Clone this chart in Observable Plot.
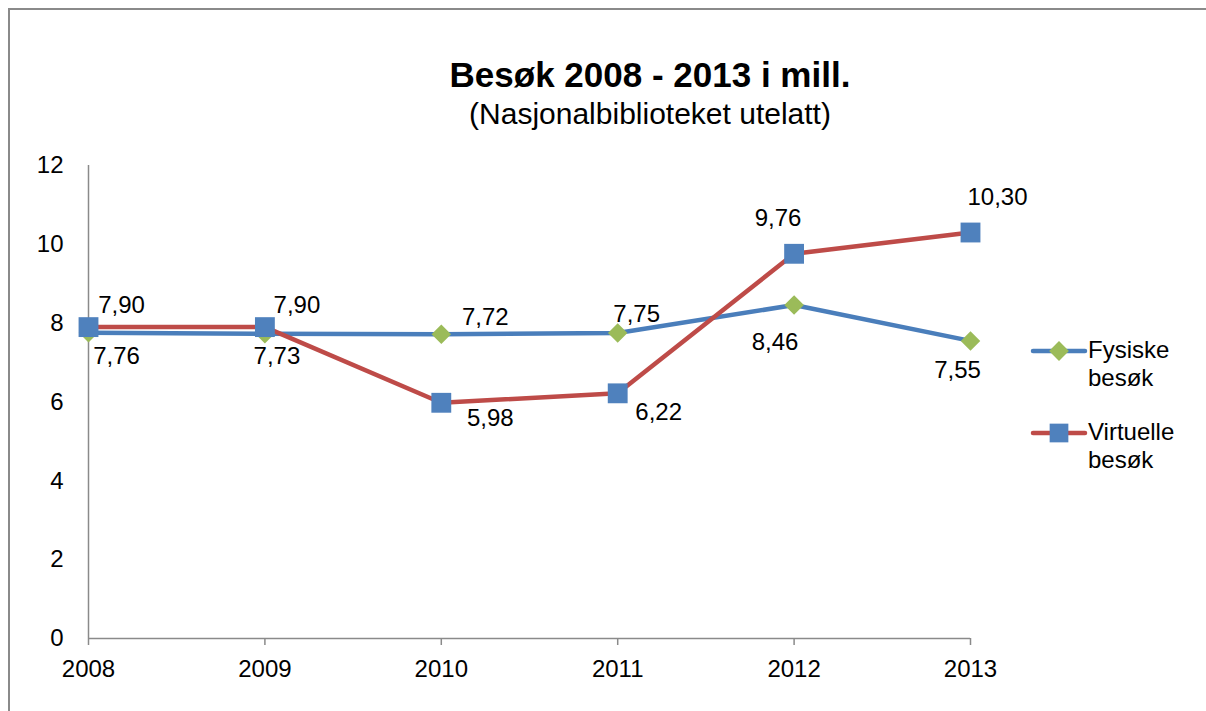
<!DOCTYPE html>
<html>
<head>
<meta charset="utf-8">
<script src="https://cdn.jsdelivr.net/npm/d3@7"></script>
<script src="https://cdn.jsdelivr.net/npm/@observablehq/plot@0.6"></script>
<style>
  html, body { margin: 0; padding: 0; background: #fff; overflow: hidden; }
  #wrap { position: relative; width: 1206px; height: 711px; font-family: "Liberation Sans", Arial, sans-serif; color: #000; }
  #frame { position: absolute; left: 8px; top: 8px; width: 1300px; height: 900px; border: 2px solid #8a8a8a; box-sizing: border-box; }
  #chart { position: absolute; left: 0; top: 0; }
  #title { position: absolute; left: 350px; width: 600px; top: 55px; text-align: center; font-weight: bold; font-size: 35px; line-height: 40px; }
  #subtitle { position: absolute; left: 350px; width: 600px; top: 97px; text-align: center; font-size: 30px; line-height: 34px; }
  .leg { position: absolute; left: 1030px; font-size: 24px; line-height: 28px; display: flex; align-items: flex-start; }
  .leg svg { margin-top: 2px; }
</style>
</head>
<body>
<div id="wrap">
  <div id="frame"></div>
  <div id="chart"></div>
  <div id="title">Besøk 2008 - 2013 i mill.</div>
  <div id="subtitle">(Nasjonalbiblioteket utelatt)</div>
  <div class="leg" id="leg1" style="top:336px"></div>
  <div class="leg" id="leg2" style="top:418px"></div>
</div>
<script>
const years = [2008, 2009, 2010, 2011, 2012, 2013];
const fysiske = [7.76, 7.73, 7.72, 7.75, 8.46, 7.55];
const virtuelle = [7.90, 7.90, 5.98, 6.22, 9.76, 10.30];
const seriesNames = ["Fysiske besøk", "Virtuelle besøk"];
const yTicks = [0, 2, 4, 6, 8, 10, 12];

const fmt = v => v.toFixed(2).replace(".", ",");
const fysData = years.map((y, i) => ({year: y, value: fysiske[i]}));
const virData = years.map((y, i) => ({year: y, value: virtuelle[i]}));

const BLUE = "#4A7EBB", RED = "#BE4B48", GREEN = "#9BBB59", SQ = "#4F81BD", AX = "#8a8a8a";

// label offsets (dx, dy) per point
const fysOff = [[28, 24], [12, 23], [44, -17], [19, -19], [-19, 37], [-13, 29]];
const virOff = [[33, -22], [32, -22], [49, 16], [41, 19], [-16, -35], [27, -35]];

function labels(data, offs) {
  return data.map((d, i) => Plot.text([d], {
    x: "year", y: "value", text: d => fmt(d.value),
    dx: offs[i][0], dy: offs[i][1], fontSize: 24, fill: "#000"
  }));
}

const plot = Plot.plot({
  width: 1206,
  height: 711,
  marginLeft: 88,
  marginRight: 236,
  marginTop: 165,
  marginBottom: 73,
  style: {background: "transparent", fontFamily: "'Liberation Sans', Arial, sans-serif", fontSize: "24px", color: "#000"},
  x: {domain: [2008, 2013], ticks: years, tickFormat: d => String(d), label: null},
  y: {domain: [0, 12], ticks: yTicks, label: null},
  marks: [
    Plot.axisY({ticks: yTicks, tickSize: 0, tickPadding: 25, fontSize: 24, fill: "#000", label: null}),
    Plot.axisX({ticks: years, tickFormat: d => String(d), tickSize: 7, tickPadding: 14, fontSize: 24, stroke: AX, strokeWidth: 1.5, fill: "#000", label: null}),
    Plot.ruleX([2008], {y1: 0, y2: 12, stroke: AX, strokeWidth: 1.5}),
    Plot.ruleY([0], {stroke: AX, strokeWidth: 1.5}),
    Plot.line(fysData, {x: "year", y: "value", stroke: BLUE, strokeWidth: 4.5}),
    Plot.line(virData, {x: "year", y: "value", stroke: RED, strokeWidth: 4.5}),
    Plot.dot(fysData, {x: "year", y: "value", symbol: "diamond2", r: 8.8, fill: GREEN, stroke: null}),
    Plot.dot(virData, {x: "year", y: "value", symbol: "square", r: 11.2, fill: SQ, stroke: null}),
    ...labels(fysData, fysOff),
    ...labels(virData, virOff)
  ]
});
document.getElementById("chart").appendChild(plot);

function legendSwatch(lineColor, markerColor, symbol) {
  const svg = d3.create("svg").attr("width", 58).attr("height", 26);
  svg.append("line").attr("x1", 3).attr("x2", 55).attr("y1", 13).attr("y2", 13)
    .attr("stroke", lineColor).attr("stroke-width", 4.5).attr("stroke-linecap", "round");
  svg.append("path").attr("transform", "translate(29,13)")
    .attr("d", d3.symbol(symbol, symbol === d3.symbolSquare ? 350 : 250)())
    .attr("fill", markerColor);
  return svg.node();
}
function legendItem(id, name, lineColor, markerColor, symbol) {
  const el = document.getElementById(id);
  el.appendChild(legendSwatch(lineColor, markerColor, symbol));
  const t = document.createElement("div");
  t.innerHTML = name.replace(" ", "<br>");
  el.appendChild(t);
}
legendItem("leg1", seriesNames[0], BLUE, GREEN, d3.symbolDiamond2);
legendItem("leg2", seriesNames[1], RED, SQ, d3.symbolSquare);
</script>
</body>
</html>
